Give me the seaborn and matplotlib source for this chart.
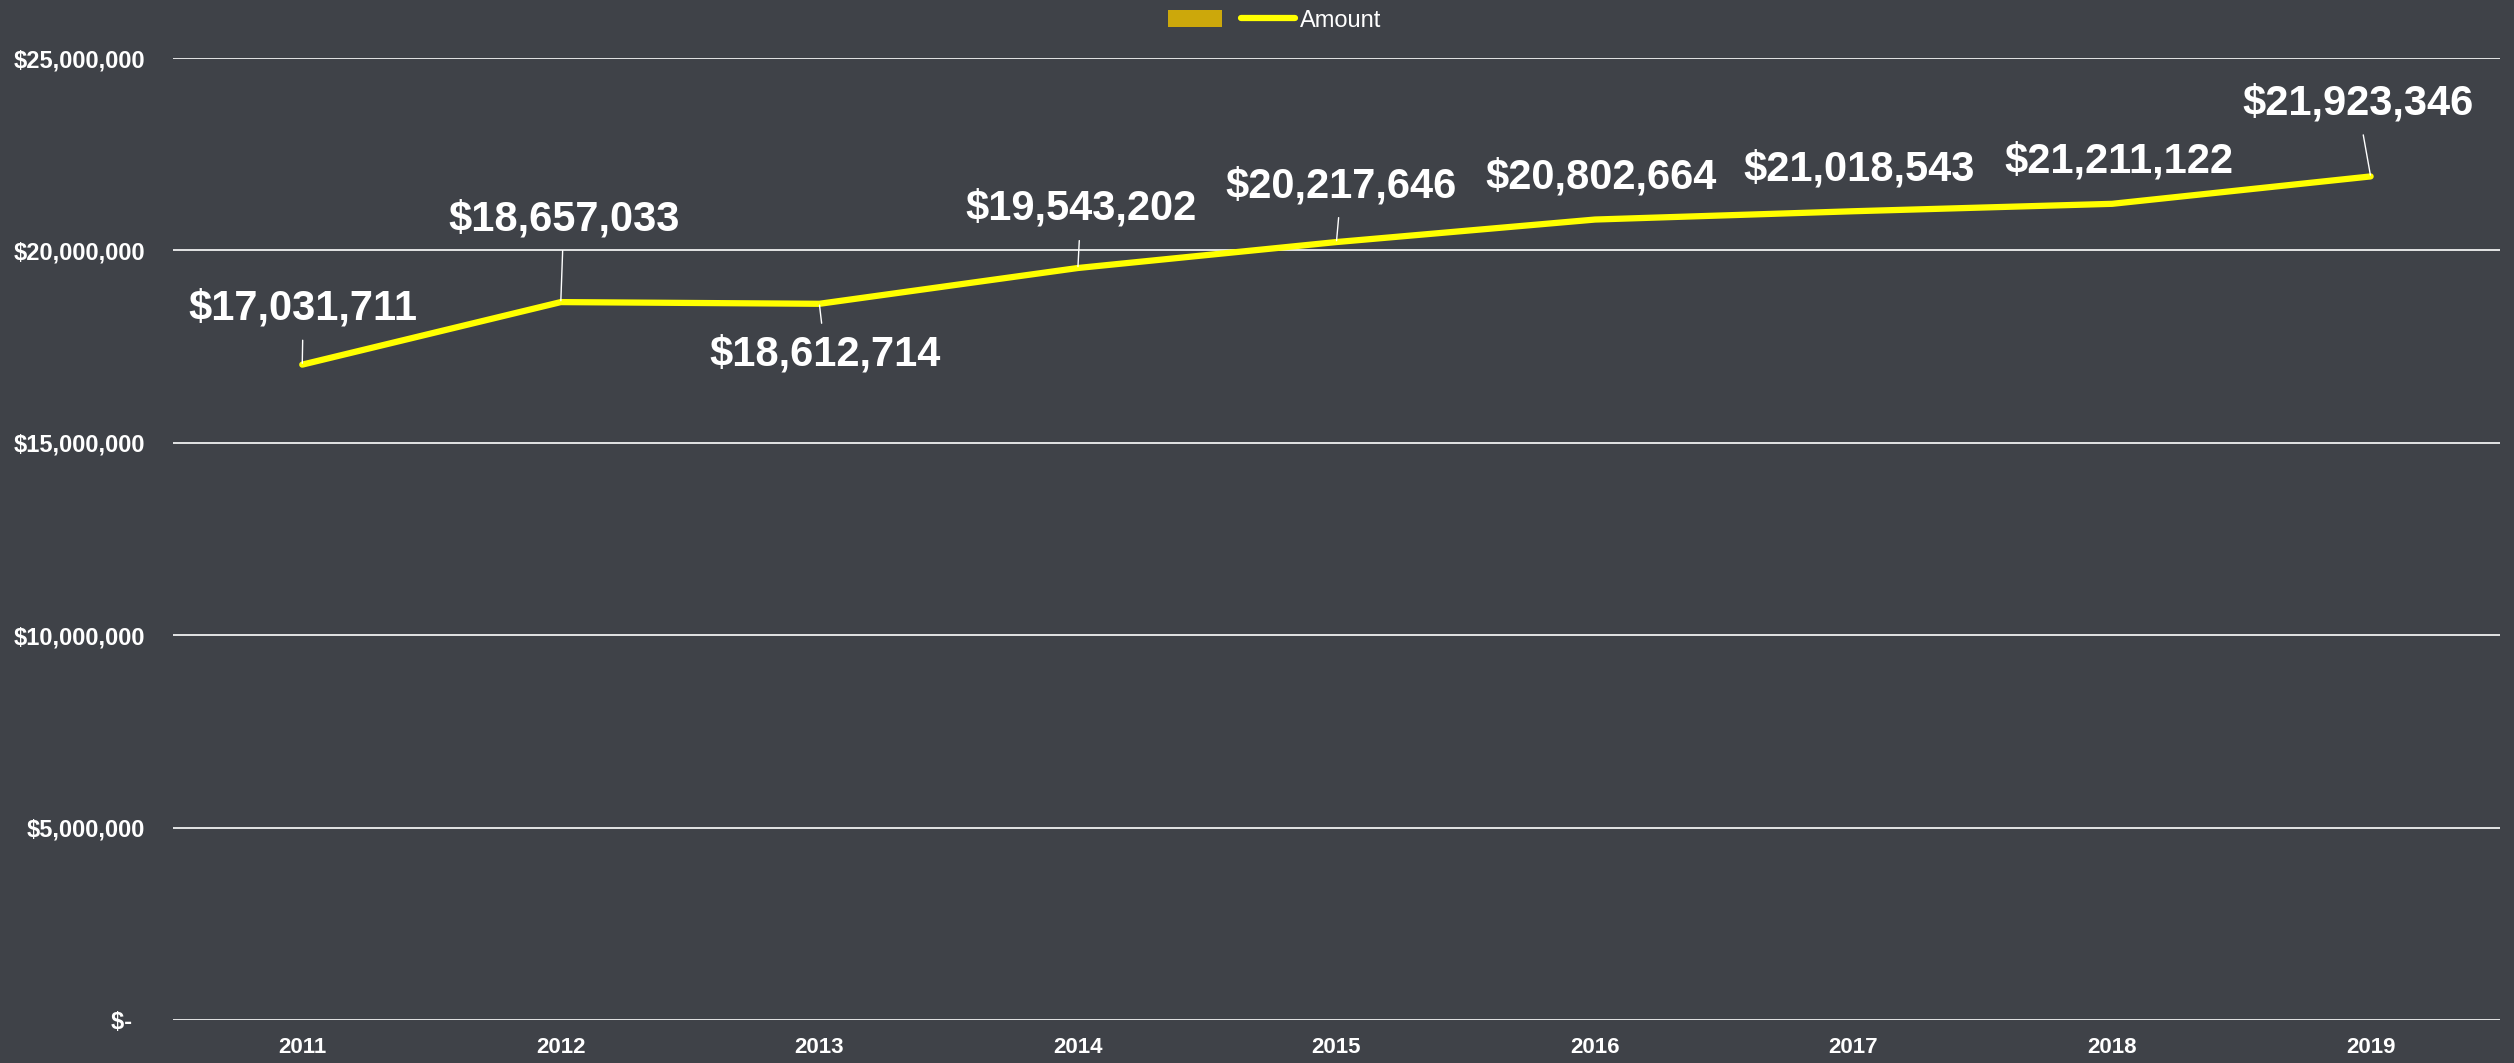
import numpy as np
import pandas as pd
import matplotlib
matplotlib.use('Agg')
import matplotlib.pyplot as plt
from matplotlib.patches import Patch
from matplotlib.lines import Line2D
from matplotlib.ticker import FuncFormatter
import seaborn as sns

# dados do gráfico
years = ['2011', '2012', '2013', '2014', '2015', '2016', '2017', '2018', '2019']
amounts = [17031711, 18657033, 18612714, 19543202, 20217646,
           20802664, 21018543, 21211122, 21923346]

# deslocamento dos rótulos (pixels) em relação ao ponto
label_dx = [1, 3, 6, 3, 5, 6, 6, 7, -13]
label_dy = [56, 83, -51, 59, 56, 42, 42, 42, 73]
# linha guia visível?
show_leader = [True, True, True, True, True, False, False, False, True]

bg = '#3f4248'
line_color = '#ffff00'

sns.set_theme(style='dark')
plt.rcParams['font.family'] = ['Liberation Sans', 'DejaVu Sans']

df = pd.DataFrame({'Year': years, 'Amount': amounts})

fig = plt.figure(figsize=(25.14, 10.63), dpi=100, facecolor=bg)
ax = fig.add_axes([0.0688, 0.0405, 0.9256, 0.9049])
ax.set_facecolor(bg)

sns.lineplot(data=df, x='Year', y='Amount', ax=ax, color=line_color,
             linewidth=4.5, solid_capstyle='round', solid_joinstyle='round',
             sort=False, zorder=3)

ax.set_xlim(-0.5, len(years) - 0.5)
ax.set_ylim(0, 25000000)
ax.set_yticks(np.arange(0, 25000001, 5000000))

def money(v, pos):
    if v == 0:
        return '$-  '
    return f'${v:,.0f}'

ax.yaxis.set_major_formatter(FuncFormatter(money))
ax.grid(axis='y', color='white', linewidth=1.2)
ax.grid(axis='x', visible=False)
for s in ax.spines.values():
    s.set_visible(False)

ax.tick_params(axis='y', colors='white', labelsize=17, length=0, pad=20)
ax.tick_params(axis='x', colors='white', labelsize=16, length=0, pad=12)
for lbl in ax.get_xticklabels() + ax.get_yticklabels():
    lbl.set_fontweight('bold')
ax.set_xlabel('')
ax.set_ylabel('')

# rótulos de valores
for i, v in enumerate(amounts):
    arrow = None
    if show_leader[i]:
        arrow = dict(arrowstyle='-', color='white', lw=1, shrinkA=6, shrinkB=1)
    ax.annotate(f'${v:,.0f}', xy=(i, v), xytext=(label_dx[i], label_dy[i]),
                textcoords='offset pixels', ha='center', va='center',
                fontsize=30, fontweight='bold', color='white', zorder=4,
                arrowprops=arrow)

handles = [Patch(facecolor='#cca80b', edgecolor='none'),
           Line2D([], [], color=line_color, lw=4.5, solid_capstyle='round')]
fig.legend(handles, ['', 'Amount'], ncol=2, loc='upper center',
           bbox_to_anchor=(0.507, 1.011), frameon=False, fontsize=17,
           labelcolor='white', handlelength=2.3, handletextpad=0.2,
           columnspacing=0.6)

plt.savefig('out.png', dpi=100, facecolor=bg)
plt.close()
